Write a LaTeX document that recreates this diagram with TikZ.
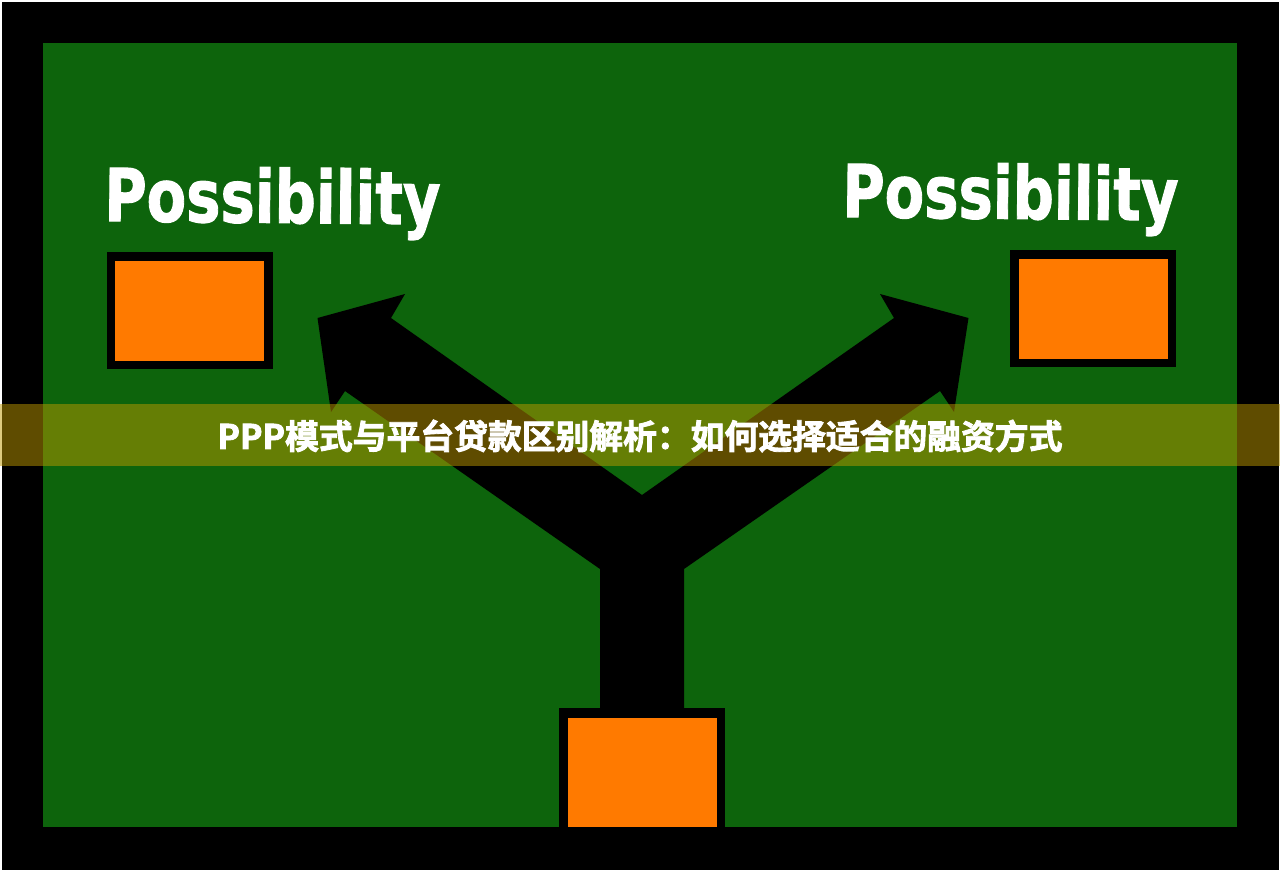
\documentclass[tikz,border=0pt]{standalone}
\usepackage{fontspec}
\setmainfont{DejaVu Sans}
\newfontfamily\cjk{Noto Sans CJK SC Bold}[FakeBold=2.5]
\newfontfamily\headfont{DejaVu Sans Bold}[FakeBold=1.5]
\definecolor{fieldgreen}{RGB}{13,100,12}
\definecolor{boxorange}{RGB}{255,122,0}
\definecolor{bandcolor}{RGB}{190,152,0}
\tikzset{
  x=1pt,y=-1pt,
  orangebox/.style={fill=boxorange,draw=black,line width=8.5pt,inner sep=0pt,outer sep=0pt,anchor=center},
  headline/.style={text=white,font=\headfont\fontsize{73}{73}\selectfont,inner sep=0pt,anchor=base west},
}
\begin{document}
\begin{tikzpicture}
\useasboundingbox (0,0) rectangle (1280,871);
\fill[white] (0,0) rectangle (1280,871);
\fill[black] (1.5,1.5) rectangle (1278.5,869.5);
\fill[fieldgreen] (43,43) rectangle (1237,827);
% Y-shaped double arrow
\fill[black] (600,710) -- (600,569) -- (345,391) -- (331,412) -- (317.5,318) -- (405,294) -- (391,318)
  -- (642,495) -- (894,318) -- (880,294) -- (968.5,318) -- (954,412) -- (940,391) -- (684,569) -- (684,710) -- cycle;
% boxes
\node[orangebox,minimum width=157.5pt,minimum height=108.5pt] (boxL) at (189.5,310.5) {};
\node[orangebox,minimum width=157.5pt,minimum height=108.5pt] (boxR) at (1093,308.5) {};
\fill[black] (559,708) rectangle (725,830);
\fill[boxorange] (568,717.5) rectangle (717,827);
% labels
\node[headline,rotate=-0.6,xscale=0.79] (labL) at (104,221) {Possibility};
\node[headline,rotate=-0.6,xscale=0.79] (labR) at (842,217) {Possibility};
% banner
\fill[bandcolor,fill opacity=0.5] (0,404) rectangle (1280,466);
\node[text=white,font=\cjk\fontsize{33.8}{33.8}\selectfont,inner sep=0pt] (title) at (640,436) {PPP模式与平台贷款区别解析：如何选择适合的融资方式};
\end{tikzpicture}
\end{document}
